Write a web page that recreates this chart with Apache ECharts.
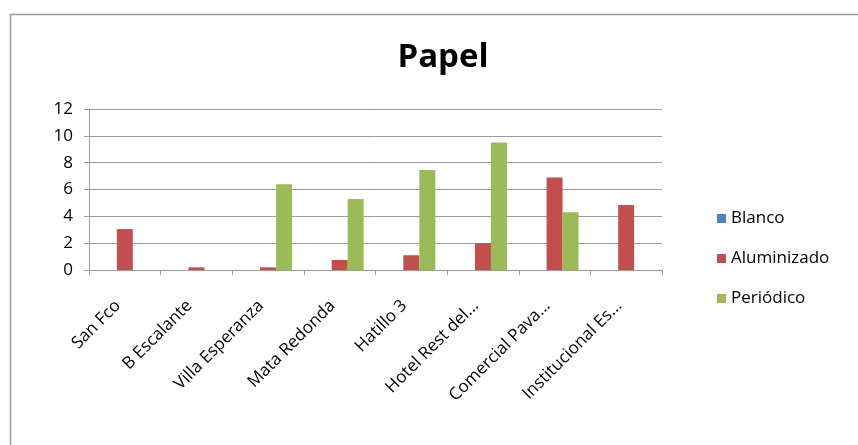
<!DOCTYPE html>
<html>
<head>
<meta charset="utf-8">
<script src="https://cdn.jsdelivr.net/npm/echarts@6/dist/echarts.min.js"></script>
<style>
  html, body { margin: 0; padding: 0; background: #ffffff; }
  #chart { width: 858px; height: 445px; }
</style>
</head>
<body>
<div id="chart"></div>
<script>
// Paper waste by collection site
const categories = ['San Fco', 'B Escalante', 'Villa Esperanza', 'Mata Redonda', 'Hatillo 3', 'Hotel Rest del...', 'Comercial Pava...', 'Institucional Es...'];
const blanco = [0, 0, 0, 0, 0, 0, 0, 0];
const aluminizado = [3.05, 0.2, 0.2, 0.75, 1.1, 2.0, 6.9, 4.85];
const periodico = [0, 0, 6.4, 5.3, 7.45, 9.5, 4.3, 0];
const yTicks = { min: 0, max: 12, interval: 2 };

const FONT = 'Open Sans';
const chart = echarts.init(document.getElementById('chart'));

chart.setOption({
  animation: false,
  backgroundColor: '#ffffff',
  textStyle: { fontFamily: FONT },
  graphic: [{
    type: 'rect',
    shape: { x: 10.5, y: 14.5, width: 900, height: 500 },
    style: { fill: 'none', stroke: '#9c9c9c', lineWidth: 1.5 },
    silent: true
  }],
  title: {
    text: 'Papel',
    left: 438,
    textAlign: 'center',
    top: 36,
    textStyle: { fontFamily: FONT, fontSize: 33, fontWeight: 'bold', color: '#000000' }
  },
  legend: {
    orient: 'vertical',
    left: 712,
    top: 205,
    itemWidth: 9,
    itemHeight: 9,
    itemGap: 23,
    icon: 'rect',
    textStyle: { fontFamily: FONT, fontSize: 17, color: '#000000' },
    data: ['Blanco', 'Aluminizado', 'Periódico']
  },
  grid: { left: 89, right: 196, top: 109, bottom: 175, containLabel: false },
  xAxis: {
    type: 'category',
    data: categories,
    axisLine: { lineStyle: { color: '#9c9c9c', width: 1 } },
    axisTick: { show: true, length: 5, lineStyle: { color: '#9c9c9c' } },
    axisLabel: {
      rotate: 45, margin: 26, padding: [0, 10, 0, 0],
      fontSize: 17, color: '#000000', fontFamily: FONT, interval: 0
    },
    splitLine: { show: false }
  },
  yAxis: {
    type: 'value',
    min: yTicks.min,
    max: yTicks.max,
    interval: yTicks.interval,
    axisLine: { show: true, lineStyle: { color: '#9c9c9c', width: 1 } },
    axisTick: { show: true, length: 5, lineStyle: { color: '#9c9c9c' } },
    axisLabel: { fontSize: 17, color: '#000000', margin: 16, fontFamily: FONT },
    splitLine: { lineStyle: { color: '#9c9c9c', width: 1 } }
  },
  series: [
    { name: 'Blanco', type: 'bar', data: blanco, itemStyle: { color: '#4f81bd' }, barGap: '0%', barCategoryGap: '33%' },
    { name: 'Aluminizado', type: 'bar', data: aluminizado, itemStyle: { color: '#c0504d' }, barGap: '0%', barCategoryGap: '33%' },
    { name: 'Periódico', type: 'bar', data: periodico, itemStyle: { color: '#9bbb59' }, barGap: '0%', barCategoryGap: '33%' }
  ]
});
</script>
</body>
</html>
